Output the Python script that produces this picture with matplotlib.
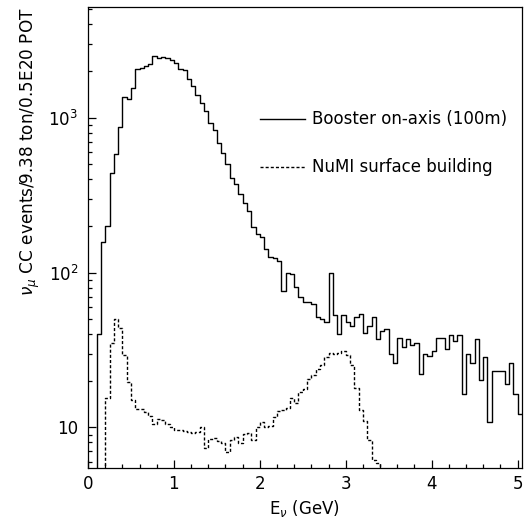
import matplotlib
matplotlib.use('Agg')
import matplotlib.pyplot as plt
import numpy as np
from matplotlib.ticker import FixedLocator, FixedFormatter, LogLocator, MultipleLocator, NullFormatter

# 0.05 GeV bins from 0 to 5.05 GeV
bin_edges = np.round(np.arange(0, 5.051, 0.05), 3)

# Booster on-axis (100m), events per bin
booster = [0, 0, 40, 157, 200, 441, 583, 871, 1367, 1315,
           1563, 2066, 2096, 2160, 2222, 2515, 2432, 2455, 2440, 2370,
           2240, 2066, 2033, 1778, 1603, 1402, 1239, 1104, 929, 833,
           690, 589, 502, 410, 371, 322, 280, 251, 198, 177,
           169, 141, 126, 124, 119, 76, 100, 98, 81, 70,
           65, 65, 63, 52, 50, 48, 100, 53, 40, 53,
           48, 45, 52, 54, 41, 45, 52, 37, 42, 43,
           30, 26, 38, 33, 37, 34, 35, 22, 30, 29,
           31, 38, 38, 32, 39.5, 36, 39.5, 16.4, 30, 26,
           37, 20.4, 28.6, 10.9, 23.2, 23.2, 23.2, 19.1, 25.9, 16.4,
           12.3]

# NuMI surface building, events per bin
numi = [0, 0, 0, 0, 15.6, 35, 50, 44, 29.5, 19.7,
        15, 13.2, 13.2, 12.6, 11.8, 10.6, 11.4, 11.2, 10.6, 10.1,
        9.7, 9.6, 9.5, 9.4, 9.2, 9.4, 10.0, 7.4, 8.4, 8.6,
        8.2, 7.9, 6.95, 8.3, 8.7, 7.9, 9.1, 9.2, 8.3, 10.0,
        10.9, 10.1, 10.2, 11.7, 12.8, 12.9, 13.3, 15.6, 14.3, 17.0,
        17.6, 20.7, 21.8, 24.0, 25.3, 28.6, 30.3, 30.0, 30.3, 31.1,
        29.3, 25.3, 17.9, 12.9, 11.0, 8.3, 6.15, 5.9, 0, 0,
        0, 0, 0, 0, 0, 0, 0, 0, 0, 0,
        0, 0, 0, 0, 0, 0, 0, 0, 0, 0,
        0, 0, 0, 0, 0, 0, 0, 0, 0, 0,
        0]

y_ticks = [10, 100, 1000]
y_tick_labels = ['10', '10$^2$', '10$^3$']

fig = plt.figure(figsize=(5.24, 5.21), dpi=100)
ax = fig.add_axes([0.168, 0.1023, 0.8279, 0.8848])
ax.set_yscale('log', nonpositive='clip')

ax.step(bin_edges, np.append(booster, booster[-1]), where='post',
        color='black', lw=1.0, label='Booster on-axis (100m)')
ax.step(bin_edges, np.append(numi, numi[-1]), where='post',
        color='black', lw=1.0, linestyle=(0, (2.2, 1.5)),
        label='NuMI surface building')

ax.set_xlim(0, 5.05)
ax.set_ylim(5.5, 5200)

ax.xaxis.set_major_locator(MultipleLocator(1))
ax.xaxis.set_minor_locator(MultipleLocator(0.2))
ax.yaxis.set_major_locator(FixedLocator(y_ticks))
ax.yaxis.set_major_formatter(FixedFormatter(y_tick_labels))
ax.yaxis.set_minor_locator(LogLocator(base=10, subs=np.arange(2, 10)))
ax.yaxis.set_minor_formatter(NullFormatter())

ax.tick_params(which='both', direction='in', top=False, right=False,
               labelsize=12, width=0.9)
ax.tick_params(which='major', length=6)
ax.tick_params(which='minor', length=3)
ax.tick_params(axis='x', pad=5)
ax.tick_params(axis='y', pad=7)
for s in ax.spines.values():
    s.set_linewidth(0.9)

ax.set_xlabel(r'E$_\nu$ (GeV)', fontsize=12)
ax.xaxis.set_label_coords(0.5, -0.066)
ax.set_ylabel(r'$\nu_\mu$ CC events/9.38 ton/0.5E20 POT', fontsize=12.2, loc='top')
ax.yaxis.set_label_coords(-0.105, 1.0)

ax.legend(frameon=False, loc='upper left', bbox_to_anchor=(0.397, 0.775),
          handlelength=2.7, handletextpad=0.42, borderpad=0, borderaxespad=0,
          labelspacing=1.8, fontsize=12)

fig.savefig('out.png', dpi=100)
